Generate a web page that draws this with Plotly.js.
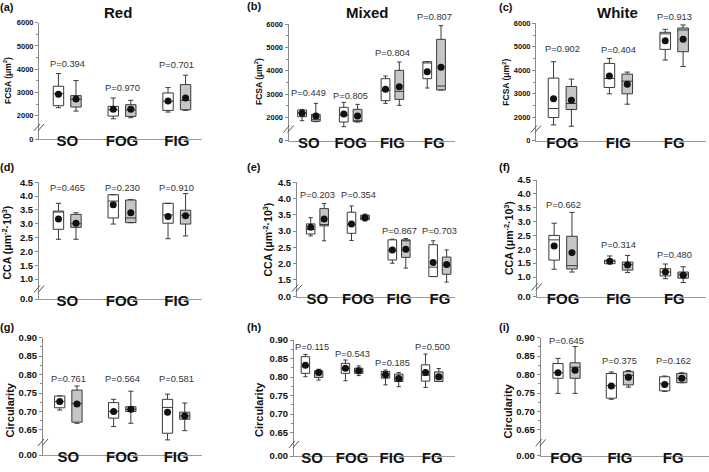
<!DOCTYPE html>
<html>
<head>
<meta charset="utf-8">
<script src="https://cdn.plot.ly/plotly-3.0.1.min.js"></script>
<style>
  html, body { margin: 0; padding: 0; background: #fff; }
  #chart { width: 709px; height: 472px; }
</style>
</head>
<body>
<div id="chart"></div>
<script>
const W = 709, H = 472;
const FONT = "Liberation Sans, Arial, sans-serif";

const catsRed = ["SO", "FOG", "FIG"];
const catsMixed = ["SO", "FOG", "FIG", "FG"];
const catsWhite = ["FOG", "FIG", "FG"];

// one row per category: [lower whisker, Q1, median, Q3, upper whisker, mean]
const fcsaRedOpen = [[2346, 2432, 2950, 3268, 3815, 2922], [1870, 1986, 2250, 2403, 2764, 2274], [2158, 2230, 2620, 2980, 3210, 2634]];
const fcsaRedGray = [[2200, 2375, 2700, 2865, 3513, 2720], [1914, 1971, 2250, 2475, 2663, 2274], [2230, 2259, 2663, 3340, 3744, 2764]];
const fcsaMixedOpen = [[1857, 2029, 2200, 2314, 2343, 2171], [1600, 1800, 2100, 2429, 2643, 2143], [2600, 2714, 3150, 3657, 3771, 3200], [3257, 3657, 4330, 4386, 4386, 3957]];
const fcsaMixedGray = [[1814, 1830, 1900, 2129, 2600, 2057], [1800, 1814, 1850, 2343, 2557, 2057], [2514, 2771, 3114, 4014, 4371, 3314], [3171, 3171, 3343, 5343, 5929, 4143]];
const fcsaWhiteOpen = [[1673, 1986, 2370, 3666, 4363, 2783], [2996, 3267, 3651, 4292, 4505, 3751], [4434, 4890, 5550, 5616, 5744, 5260]];
const fcsaWhiteGray = [[1616, 2327, 2584, 3310, 3623, 2726], [2555, 2996, 3537, 3836, 3922, 3409], [4164, 4790, 5715, 5800, 5929, 5317]];

const ccaRedOpen = [[2.44, 2.80, 3.43, 3.46, 3.74, 3.17], [2.99, 3.21, 3.82, 4.05, 4.05, 3.69], [2.46, 3.02, 3.32, 3.74, 3.74, 3.26]];
const ccaRedGray = [[2.44, 2.87, 3.00, 3.34, 3.40, 3.02], [3.04, 3.04, 3.21, 3.86, 3.88, 3.40], [2.56, 2.99, 3.31, 3.49, 4.09, 3.29]];
const ccaMixedOpen = [[2.85, 2.91, 3.05, 3.22, 3.41, 3.12], [2.71, 2.93, 3.20, 3.58, 3.77, 3.22], [2.01, 2.11, 2.40, 2.73, 2.75, 2.42], [1.60, 1.60, 1.89, 2.58, 2.70, 2.03]];
const ccaMixedGray = [[2.70, 3.16, 3.20, 3.69, 3.85, 3.37], [3.31, 3.35, 3.40, 3.49, 3.52, 3.41], [1.86, 2.19, 2.73, 2.73, 2.77, 2.44], [1.43, 1.67, 1.95, 2.20, 2.42, 1.97]];
const ccaWhiteOpen = [[1.28, 1.61, 2.34, 2.50, 2.94, 2.12], [1.48, 1.48, 1.57, 1.61, 1.76, 1.57], [0.94, 1.04, 1.18, 1.30, 1.47, 1.18]];
const ccaWhiteGray = [[1.18, 1.29, 1.41, 2.47, 3.33, 1.88], [1.16, 1.25, 1.45, 1.54, 1.78, 1.43], [0.80, 0.96, 1.10, 1.18, 1.37, 1.06]];

const circRedOpen = [[0.704, 0.710, 0.727, 0.742, 0.742, 0.727], [0.659, 0.682, 0.700, 0.724, 0.733, 0.700], [0.623, 0.641, 0.711, 0.733, 0.747, 0.698]];
const circRedGray = [[0.668, 0.671, 0.722, 0.758, 0.769, 0.720], [0.668, 0.700, 0.706, 0.713, 0.755, 0.706], [0.648, 0.679, 0.688, 0.698, 0.723, 0.688]];
const circMixedOpen = [[0.801, 0.810, 0.830, 0.855, 0.861, 0.832], [0.790, 0.810, 0.822, 0.837, 0.846, 0.824], [0.779, 0.797, 0.806, 0.815, 0.819, 0.806], [0.772, 0.789, 0.805, 0.833, 0.862, 0.812]];
const circMixedGray = [[0.792, 0.799, 0.810, 0.817, 0.821, 0.812], [0.804, 0.810, 0.816, 0.824, 0.830, 0.817], [0.774, 0.788, 0.797, 0.808, 0.812, 0.796], [0.788, 0.788, 0.800, 0.814, 0.823, 0.801]];
const circWhiteOpen = [[0.749, 0.790, 0.805, 0.830, 0.844, 0.805], [0.733, 0.736, 0.770, 0.803, 0.807, 0.769], [0.754, 0.756, 0.775, 0.794, 0.796, 0.773]];
const circWhiteGray = [[0.749, 0.790, 0.820, 0.832, 0.876, 0.812], [0.766, 0.772, 0.798, 0.808, 0.811, 0.793], [0.778, 0.778, 0.790, 0.803, 0.805, 0.790]];

// P values and the height (in data units) where each label sits
const pFcsaRed = ["0.394", "0.970", "0.701"], pFcsaRedAt = [4205, 3210, 4190];
const pFcsaMixed = ["0.449", "0.805", "0.804", "0.807"], pFcsaMixedAt = [3043, 2929, 4743, 6286];
const pFcsaWhite = ["0.902", "0.404", "0.913"], pFcsaWhiteAt = [4890, 4861, 6256];
const pCcaRed = ["0.465", "0.230", "0.910"], pCcaRedAt = [4.28, 4.28, 4.28];
const pCcaMixed = ["0.203", "0.354", "0.867", "0.703"], pCcaMixedAt = [4.11, 4.11, 3.01, 3.01];
const pCcaWhite = ["0.662", "0.314", "0.480"], pCcaWhiteAt = [3.60, 2.15, 1.78];
const pCircRed = ["0.761", "0.564", "0.581"], pCircRedAt = [0.787, 0.787, 0.787];
const pCircMixed = ["0.115", "0.543", "0.185", "0.500"], pCircMixedAt = [0.882, 0.861, 0.839, 0.882];
const pCircWhite = ["0.645", "0.375", "0.162"], pCircWhiteAt = [0.892, 0.838, 0.838];

const fcsaTicks = [2000, 3000, 4000, 5000, 6000];
const ccaTicks = [1.0, 1.5, 2.0, 2.5, 3.0, 3.5, 4.0, 4.5];
const ccaTicksMixed = [1.5, 2.0, 2.5, 3.0, 3.5, 4.0, 4.5];
const circTicks = [0.65, 0.70, 0.75, 0.80, 0.85, 0.90];

const fcsaTitle = "FCSA (μm<sup>2</sup>)";
const ccaTitle = "CCA (μm<sup>-2</sup>·10<sup>3</sup>)";
const circTitle = "Circularity";

// geometry in page pixels: [left, right, top, bottom]; yr[0] is where the "0" of the broken axis sits
const panels = [
  { tag: "(a)", cats: catsRed, open: fcsaRedOpen, gray: fcsaRedGray, p: pFcsaRed, pAt: pFcsaRedAt,
    box: [39, 202, 22.7, 139], xr: [0.485, 3.46], yr: [1000, 6000], ticks: fcsaTicks, dec: 0, zero: "0",
    minor: [2500, 3500, 4500, 5500], ytitle: fcsaTitle, ytAt: [7, 81], tickSize: 7.5, ytSize: 8.5, tagAt: [7, 7] },
  { tag: "(b)", cats: catsMixed, open: fcsaMixedOpen, gray: fcsaMixedGray, p: pFcsaMixed, pAt: pFcsaMixedAt,
    box: [288.5, 455, 24, 140.7], xr: [0.51, 4.5], yr: [1000, 6000], ticks: fcsaTicks, dec: 0, zero: "0",
    minor: [2500, 3500, 4500, 5500], ytitle: fcsaTitle, ytAt: [259, 82], tickSize: 7.5, ytSize: 8.5, tagAt: [254, 6] },
  { tag: "(c)", cats: catsWhite, open: fcsaWhiteOpen, gray: fcsaWhiteGray, p: pFcsaWhite, pAt: pFcsaWhiteAt,
    box: [536, 706, 23.3, 140.7], xr: [0.526, 3.57], yr: [1000, 6000], ticks: fcsaTicks, dec: 0, zero: "0",
    minor: [2500, 3500, 4500, 5500], ytitle: fcsaTitle, ytAt: [506.7, 82], tickSize: 7.5, ytSize: 8.5, tagAt: [506, 7] },
  { tag: "(d)", cats: catsRed, open: ccaRedOpen, gray: ccaRedGray, p: pCcaRed, pAt: pCcaRedAt,
    box: [39, 202, 182.3, 299], xr: [0.485, 3.46], yr: [0.28, 4.5], ticks: ccaTicks, dec: 1, zero: "0.0",
    minor: [], ytitle: ccaTitle, ytAt: [6.5, 243], tickSize: 9.5, ytSize: 10.5, tagAt: [7, 167] },
  { tag: "(e)", cats: catsMixed, open: ccaMixedOpen, gray: ccaMixedGray, p: pCcaMixed, pAt: pCcaMixedAt,
    box: [297, 455, 182.3, 296.7], xr: [0.5, 4.37], yr: [0.98, 4.5], ticks: ccaTicksMixed, dec: 1, zero: "0.0",
    minor: [], ytitle: ccaTitle, ytAt: [266.5, 240], tickSize: 9.5, ytSize: 10.5, tagAt: [254, 167] },
  { tag: "(f)", cats: catsWhite, open: ccaWhiteOpen, gray: ccaWhiteGray, p: pCcaWhite, pAt: pCcaWhiteAt,
    box: [536.7, 706, 180, 296.7], xr: [0.526, 3.57], yr: [0.29, 4.5], ticks: ccaTicks, dec: 1, zero: "0.0",
    minor: [], ytitle: ccaTitle, ytAt: [508, 238], tickSize: 9.5, ytSize: 10.5, tagAt: [504.5, 167] },
  { tag: "(g)", cats: catsRed, open: circRedOpen, gray: circRedGray, p: pCircRed, pAt: pCircRedAt,
    box: [43, 202, 337.7, 455], xr: [0.53, 3.48], yr: [0.582, 0.90], ticks: circTicks, dec: 2, zero: "0.00",
    minor: [0.675, 0.725, 0.775, 0.825, 0.875], ytitle: circTitle, ytAt: [9.5, 410], tickSize: 9.5, ytSize: 11, tagAt: [7, 327] },
  { tag: "(h)", cats: catsMixed, open: circMixedOpen, gray: circMixedGray, p: pCircMixed, pAt: pCircMixedAt,
    box: [294, 455, 340, 456], xr: [0.55, 4.57], yr: [0.587, 0.90], ticks: circTicks, dec: 2, zero: "0.00",
    minor: [0.675, 0.725, 0.775, 0.825, 0.875], ytitle: circTitle, ytAt: [259, 410], tickSize: 9.5, ytSize: 11, tagAt: [254, 327] },
  { tag: "(i)", cats: catsWhite, open: circWhiteOpen, gray: circWhiteGray, p: pCircWhite, pAt: pCircWhiteAt,
    box: [540.7, 709, 337.7, 455.7], xr: [0.516, 3.67], yr: [0.580, 0.90], ticks: circTicks, dec: 2, zero: "0.00",
    minor: [0.675, 0.725, 0.775, 0.825, 0.875], ytitle: circTitle, ytAt: [507.5, 411], tickSize: 9.5, ytSize: 11, tagAt: [504, 327] },
];

const colTitles = [["Red", 118, 12], ["Mixed", 367.5, 12], ["White", 617.5, 12]];

const traces = [];
const annotations = [];
const shapes = [];
const layout = {
  width: W, height: H,
  margin: { l: 0, r: 0, t: 0, b: 0 },
  paper_bgcolor: "#fff", plot_bgcolor: "#fff",
  showlegend: false,
  font: { family: FONT, color: "#111" },
};

function col(rows, k) { return rows.map(r => r[k]); }

function boxTrace(rows, xs, fill, xa, ya, w) {
  return {
    type: "box", x: xs, xaxis: xa, yaxis: ya,
    lowerfence: col(rows, 0), q1: col(rows, 1), median: col(rows, 2), q3: col(rows, 3), upperfence: col(rows, 4),
    width: w, whiskerwidth: 0.5, fillcolor: fill, boxpoints: false,
    line: { color: "#3a3a3a", width: 1 }, hoverinfo: "skip",
  };
}

panels.forEach((pn, i) => {
  const n = i === 0 ? "" : String(i + 1);
  const xa = "x" + n, ya = "y" + n;
  const [L, R, T, B] = pn.box;
  const three = pn.cats.length === 3;
  const off = three ? 0.16 : 0.165;
  const w = three ? 0.19 : 0.21;
  const idx = pn.cats.map((c, k) => k + 1);

  traces.push(boxTrace(pn.open, idx.map(v => v - off), "#ffffff", xa, ya, w));
  traces.push(boxTrace(pn.gray, idx.map(v => v + off), "#c6c6c6", xa, ya, w));
  traces.push({ type: "scatter", mode: "markers", x: idx.map(v => v - off), y: col(pn.open, 5), xaxis: xa, yaxis: ya,
    marker: { size: 7, color: "#111" }, hoverinfo: "skip", cliponaxis: false });
  traces.push({ type: "scatter", mode: "markers", x: idx.map(v => v + off), y: col(pn.gray, 5), xaxis: xa, yaxis: ya,
    marker: { size: 7, color: "#111" }, hoverinfo: "skip", cliponaxis: false });

  layout["xaxis" + n] = {
    domain: [L / W, R / W], range: pn.xr, anchor: ya,
    showline: true, linecolor: "#9a9a9a", linewidth: 1, ticks: "", ticklen: 0, ticklabelstandoff: -12,
    showgrid: false, zeroline: false,
    tickmode: "array", tickvals: idx, ticktext: pn.cats,
    tickfont: { family: FONT, size: 15, weight: "bold", color: "#111" }, fixedrange: true,
  };
  layout["yaxis" + n] = {
    domain: [1 - B / H, 1 - T / H], range: pn.yr, anchor: xa,
    showline: true, linecolor: "#8a8a8a", linewidth: 1, showgrid: false, zeroline: false,
    ticks: "outside", ticklen: 3, tickcolor: "#8a8a8a",
    tickmode: "array", tickvals: [pn.yr[0]].concat(pn.ticks),
    ticktext: [pn.zero].concat(pn.ticks.map(v => v.toFixed(pn.dec))),
    minor: { tickmode: "array", tickvals: pn.minor, ticks: "outside", ticklen: 2, tickcolor: "#8a8a8a" },
    tickfont: { family: FONT, size: pn.tickSize, weight: "bold", color: "#111" }, fixedrange: true,
  };

  // break marks on the y axis
  const brk = (pn.yr[0] + pn.ticks[0]) / 2;
  [-2, 2].forEach(dx => {
    shapes.push({ type: "line", xref: xa + " domain", yref: ya, xsizemode: "pixel", ysizemode: "pixel",
      xanchor: 0, yanchor: brk, x0: dx - 3, y0: -3.5, x1: dx + 3, y1: 3.5,
      line: { color: "#555", width: 1 } });
  });

  // P value labels
  pn.p.forEach((pv, k) => {
    annotations.push({ xref: xa, yref: ya + " domain", x: k + 1, y: (pn.pAt[k] - pn.yr[0]) / (pn.yr[1] - pn.yr[0]),
      text: "P=" + pv, showarrow: false, xanchor: "center", yanchor: "middle",
      font: { family: FONT, size: 9.3, color: "#333" } });
  });

  annotations.push({ xref: "paper", yref: "paper", x: pn.ytAt[0] / W, y: 1 - pn.ytAt[1] / H, text: pn.ytitle,
    textangle: -90, showarrow: false, xanchor: "center", yanchor: "middle",
    font: { family: FONT, size: pn.ytSize, weight: "bold", color: "#111" } });
  annotations.push({ xref: "paper", yref: "paper", x: pn.tagAt[0] / W, y: 1 - pn.tagAt[1] / H, text: pn.tag,
    showarrow: false, xanchor: "center", yanchor: "middle",
    font: { family: FONT, size: 11, weight: "bold", color: "#111" } });
});

colTitles.forEach(([t, x, y]) => {
  annotations.push({ xref: "paper", yref: "paper", x: x / W, y: 1 - y / H, text: t, showarrow: false,
    xanchor: "center", yanchor: "middle", font: { family: FONT, size: 15, weight: "bold", color: "#111" } });
});

layout.annotations = annotations;
layout.shapes = shapes;

Plotly.newPlot("chart", traces, layout, { displayModeBar: false, staticPlot: true });
</script>
</body>
</html>
